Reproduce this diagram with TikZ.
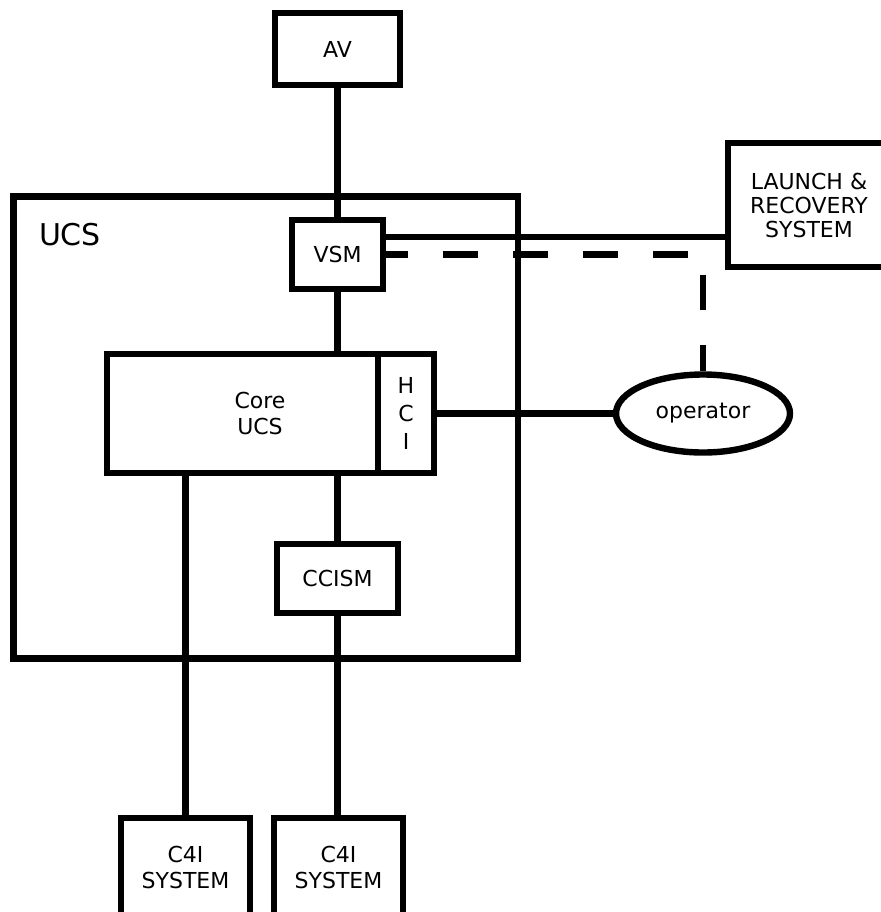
\documentclass[tikz,border=0pt]{standalone}
\usepackage{fontspec}
\setmainfont{DejaVu Sans}
\usetikzlibrary{shapes.geometric}

\begin{document}
\begin{tikzpicture}[x=0.5pt,y=-0.5pt,font=\fontsize{11}{13}\selectfont,
        box/.style={draw,line width=3.2pt,fill=white,align=center,inner sep=0pt},
        link/.style={line width=3.2pt},
        dashlink/.style={line width=3.2pt,dash pattern=on 17.5pt off 17.5pt,dash phase=6.5pt}]
        \useasboundingbox (0,0) rectangle (880,912);
        \node[draw,line width=3.2pt,minimum width=252.25pt,minimum height=231pt] (ucs) at (265.75,427.5) {};
        \node[font=\fontsize{15}{18}\selectfont] (ucslabel) at (70,235) {UCS};
        \node[box,minimum width=62.5pt,minimum height=36pt] (av) at (337.5,49) {AV};
        \node[box,minimum width=45.5pt,minimum height=34.5pt] (vsm) at (337.5,254.5) {VSM};
        \node[box,minimum width=153pt,minimum height=59.5pt] (core) at (260,413.5) {Core\\UCS};
        \node[box,minimum width=28pt,minimum height=59.5pt,font=\fontsize{11}{14}\selectfont] (hci) at (406,413.5) {H\\C\\I};
        \node[box,ellipse,minimum width=87pt,minimum height=39pt] (op) at (703,413.5) {operator};
        \node[box,minimum width=81pt,minimum height=62pt,font=\fontsize{11}{12}\selectfont] (launch) at (809,205) {LAUNCH \&\\RECOVERY\\SYSTEM};
        \node[box,minimum width=60.5pt,minimum height=34.5pt] (ccism) at (337.5,578.5) {CCISM};
        \node[box,minimum width=64.5pt,minimum height=49pt] (c4ia) at (185.5,867) {C4I\\SYSTEM};
        \node[box,minimum width=64.5pt,minimum height=49pt] (c4ib) at (338.5,867) {C4I\\SYSTEM};
        \draw[link] (av) -- (vsm);
        \draw[link] (vsm) -- (vsm |- core.north);
        \draw[link] ([yshift=8.75pt]vsm.east) -- ([yshift=8.75pt]vsm.east -| launch.west);
        \draw[dashlink] (vsm.east) -- (vsm.east -| op.north) -- (op.north);
        \draw[link] (hci) -- (op);
        \draw[link] (ccism |- core.south) -- (ccism);
        \draw[link] (ccism) -- (ccism |- c4ib.north);
        \draw[link] (c4ia |- core.south) -- (c4ia);
      \end{tikzpicture}
\end{document}
